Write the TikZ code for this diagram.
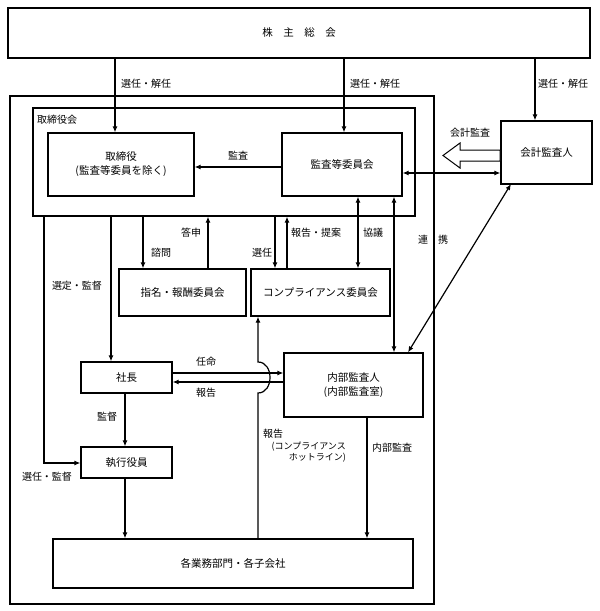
\documentclass[tikz,border=0pt]{standalone}
\usepackage{fontspec}
\setmainfont{Noto Sans CJK JP}
\usetikzlibrary{arrows.meta}
\begin{document}
\begin{tikzpicture}[x=1pt,y=-1pt,
  box/.style={draw,line width=1.2pt,inner sep=0pt,align=center,font=\fontsize{10.5}{14}\selectfont},
  arr/.style={line width=1.2pt,-{Latex[length=6pt,width=5pt]}},
  darr/.style={line width=1.2pt,{Latex[length=6pt,width=5pt]}-{Latex[length=6pt,width=5pt]}},
  lbl/.style={font=\fontsize{10}{12}\selectfont,inner sep=1pt,align=left}]
\useasboundingbox (0,0) rectangle (600,611);
\node[box,minimum width=582,minimum height=50] (kabu) at (299,33) {株　主　総　会};
\node[box,minimum width=424,minimum height=508] (outer) at (222,350) {};
\node[box,minimum width=382,minimum height=108] (board) at (224,162) {};
\node[lbl,anchor=west] (boardl) at (36,120) {取締役会};
\node[box,minimum width=146,minimum height=63] (tori) at (121,164.5) {取締役\\(監査等委員を除く)};
\node[box,minimum width=120,minimum height=63] (kansa) at (342,164.5) {監査等委員会};
\node[box,minimum width=91,minimum height=63] (kaikei) at (546.5,152.5) {会計監査人};
\node[box,minimum width=127,minimum height=47] (shimei) at (182.5,292.5) {指名・報酬委員会};
\node[box,minimum width=139,minimum height=47] (comp) at (320.5,292.5) {コンプライアンス委員会};
\node[box,minimum width=91,minimum height=31] (shacho) at (126.5,377.5) {社長};
\node[box,minimum width=91,minimum height=31] (shikko) at (126.5,462.5) {執行役員};
\node[box,minimum width=139,minimum height=64] (naibu) at (353.5,385) {内部監査人\\(内部監査室)};
\node[box,minimum width=360,minimum height=49] (gyomu) at (233,563.5) {各業務部門・各子会社};
% from shareholders
\draw[arr] (kabu.south -| 115,0) -- (tori.north -| 115,0);
\draw[arr] (kabu.south -| 344,0) -- (kansa.north -| 344,0);
\draw[arr] (kabu.south -| 535,0) -- (kaikei.north -| 535,0);
\node[lbl,anchor=west] (l1) at (120,84) {選任・解任};
\node[lbl,anchor=west] (l2) at (349,84) {選任・解任};
\node[lbl,anchor=west] (l3) at (537,84) {選任・解任};
% kansa
\draw[arr] (kansa.west |- 0,167) -- (tori.east |- 0,167);
\node[lbl] (lk) at (238,156) {監査};
\draw[darr] (kansa.east |- 0,173) -- (kaikei.west |- 0,173);
\draw[line width=1pt,fill=white] (500,150) -- (460,150) -- (460,143) -- (443,155.5) -- (460,168) -- (460,161) -- (500,161) -- cycle;
\node[lbl] (lkk) at (470,133) {会計監査};
% committees
\draw[arr] (board.south -| 143,0) -- (shimei.north -| 143,0);
\draw[arr] (shimei.north -| 208,0) -- (board.south -| 208,0);
\draw[arr] (board.south -| 275,0) -- (comp.north -| 275,0);
\draw[arr] (comp.north -| 287,0) -- (board.south -| 287,0);
\draw[darr] (kansa.south -| 358,0) -- (comp.north -| 358,0);
\node[lbl] (a1) at (161,253) {諮問};
\node[lbl] (a2) at (191,233) {答申};
\node[lbl] (a3) at (262,253) {選任};
\node[lbl,anchor=west] (a4) at (290,233) {報告・提案};
\node[lbl,anchor=west] (a5) at (362,233) {協議};
\node[lbl] (a6) at (433,240) {連　携};
% naibu links
\draw[darr] (kansa.south -| 394,0) -- (naibu.north -| 394,0);
\draw[darr] (naibu.north -| 408,0) -- (511,184);
% left lines
\draw[arr] (board.south -| 44,0) -- (44,463) -- (shikko.west |- 0,463);
\node[lbl] (a7) at (77,286) {選定・監督};
\node[lbl] (a8) at (47,477) {選任・監督};
\draw[arr] (board.south -| 111,0) -- (shacho.north -| 111,0);
\draw[arr] (shacho.south -| 125,0) -- (shikko.north -| 125,0);
\node[lbl] (a9) at (107,417) {監督};
\draw[arr] (shikko.south -| 125,0) -- (gyomu.north -| 125,0);
% shacho naibu
\draw[arr] (shacho.east |- 0,373) -- (naibu.west |- 0,373);
\draw[arr] (naibu.west |- 0,382) -- (shacho.east |- 0,382);
\node[lbl] (a10) at (206,362) {任命};
\node[lbl] (a11) at (206,393) {報告};
% hotline
\draw[arr] (gyomu.north -| 258,0) -- (258,393) .. controls (274,393) and (274,362) .. (258,362) -- (comp.south -| 258,0);
\node[lbl,anchor=west] (a12) at (262,434) {報告};
\node[lbl,anchor=north east,align=right,font=\fontsize{9}{10.5}\selectfont] (a13) at (347,441) {(コンプライアンス\\ホットライン)};
\draw[arr] (naibu.south -| 367,0) -- (gyomu.north -| 367,0);
\node[lbl,anchor=west] (a14) at (371,448) {内部監査};
\end{tikzpicture}
\end{document}
